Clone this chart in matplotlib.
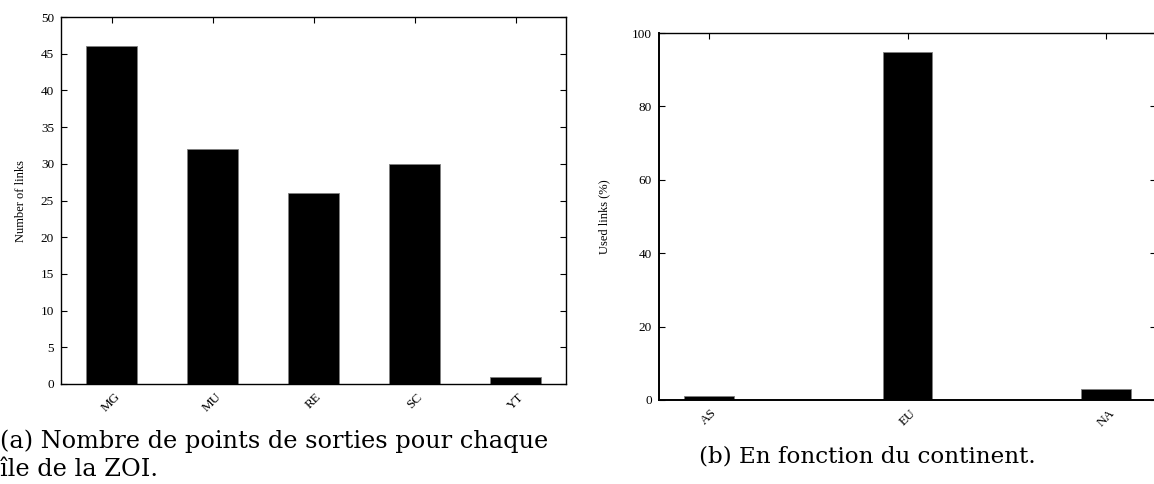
import numpy as np
import matplotlib
matplotlib.use("Agg")
import matplotlib.pyplot as plt

# data
islands = ["MG", "MU", "RE", "SC", "YT"]
island_links = [46, 32, 26, 30, 1]

continents = ["AS", "EU", "NA"]
used_links_pct = [1.0, 94.7, 3.0]

plt.rcParams['font.family'] = ['Liberation Serif', 'DejaVu Serif']

W, H = 1154, 484
fig = plt.figure(figsize=(W / 100, H / 100), dpi=100)


def px_axes(x0, y0, x1, y1):
    # rectangle given in pixel coords (top-left origin)
    return fig.add_axes([x0 / W, 1 - y1 / H, (x1 - x0) / W, (y1 - y0) / H])


def style(ax):
    ax.tick_params(direction='in', length=4, width=0.8, labelsize=9.5, pad=5,
                   top=True, right=True, bottom=False)
    for s in ax.spines.values():
        s.set_linewidth(1.0)


# (a) links per island
ax1 = px_axes(61, 17, 566, 384)
x1 = np.arange(len(islands))
ax1.bar(x1, island_links, width=0.5, color='black', edgecolor='#808080', linewidth=0.6)
ax1.set_xlim(-0.5, len(islands) - 0.5)
ax1.set_ylim(0, 50)
ax1.set_yticks(np.arange(0, 51, 5))
ax1.set_xticks(x1)
ax1.set_xticklabels(islands, rotation=45, fontsize=7.5)
ax1.set_ylabel("Number of links", fontsize=9, labelpad=10)
style(ax1)

# (b) per continent
ax2 = px_axes(659, 33, 1156, 400)
x2 = np.arange(len(continents))
ax2.bar(x2, used_links_pct, width=0.25, color='black', edgecolor='#808080', linewidth=0.6)
ax2.set_xlim(-0.25, len(continents) - 0.75)
ax2.set_ylim(0, 100)
ax2.set_yticks(np.arange(0, 101, 20))
ax2.set_xticks(x2)
ax2.set_xticklabels(continents, rotation=45, fontsize=7.5)
ax2.set_ylabel("Used links (%)", fontsize=9, labelpad=16)
style(ax2)
ax2.spines['left'].set_linewidth(1.4)
ax2.spines['bottom'].set_linewidth(1.4)

# captions
fig.text(0 / W, 1 - 455 / H, "(a) Nombre de points de sorties pour chaque\nîle de la ZOI.",
         ha='left', va='center', linespacing=1.25, fontsize=17.3, family=['DejaVu Serif'])
fig.text(867 / W, 1 - 457 / H, "(b) En fonction du continent.",
         ha='center', va='center', fontsize=16.6, family=['DejaVu Serif'])

fig.savefig("out.png", dpi=100)
